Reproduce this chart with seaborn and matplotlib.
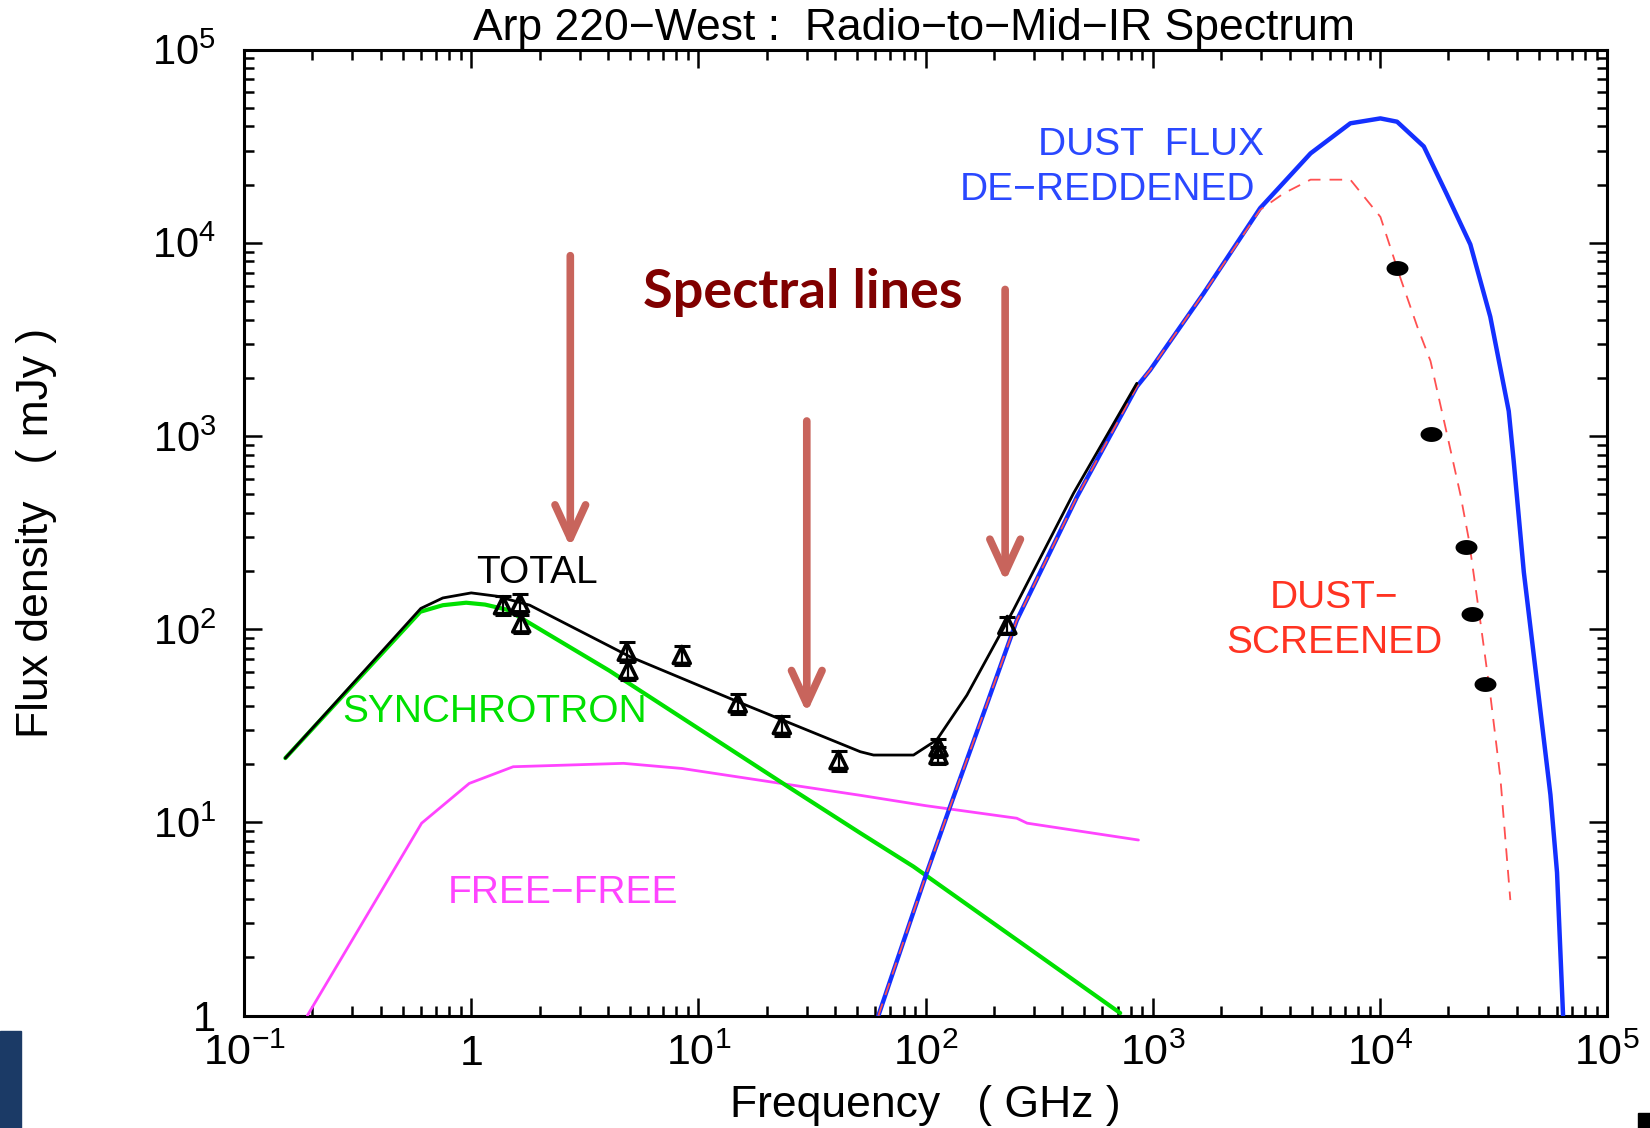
import numpy as np
import pandas as pd
import seaborn as sns
import matplotlib
matplotlib.use("Agg")
import matplotlib.pyplot as plt
from matplotlib import font_manager
from matplotlib.ticker import FixedLocator, FixedFormatter, LogLocator, NullFormatter
from matplotlib.patches import Rectangle
from matplotlib.path import Path

# ---------------- data ----------------
sync_freq = [0.152, 0.597, 0.75, 0.95, 1.15, 1.44, 4.05, 24.8, 51.6, 88.5, 719]
sync_flux = [21.5, 123, 133, 137, 134, 126, 61, 15.3, 8.8, 5.9, 1.03]

total_freq = [0.152, 0.60, 0.75, 1.0, 1.3, 1.81, 5.0, 16.3, 51.6, 59, 88.5, 112, 152, 244, 448, 851]
total_flux = [21.5, 128, 145, 154, 148, 133, 72, 40.3, 23.2, 22.3, 22.3, 26.7, 45.5, 126, 505, 1872]

ff_freq = [0.19, 0.605, 0.98, 1.53, 4.68, 8.47, 23.1, 51.6, 100, 252, 280, 865]
ff_flux = [1.0, 9.9, 15.9, 19.4, 20.2, 19.0, 15.9, 13.8, 12.2, 10.5, 9.9, 8.1]

dust_freq = [62, 101, 128, 189, 252, 464, 851, 973, 1675, 2970, 4950, 7410, 10050,
             11900, 15600, 19700, 25000, 30600, 36900, 38800, 43000, 49200, 56300, 60200, 64000]
dust_flux = [1.0, 5.44, 12.0, 43, 111, 484, 1800, 2190, 5470, 15100, 29000, 41500, 44000,
             42300, 31500, 17800, 9800, 4140, 1344, 741, 197, 52.5, 13.9, 5.5, 1.0]

screen_freq = [62, 101, 128, 189, 252, 464, 851, 973, 1675, 2970, 3770, 4950, 7410, 10050,
               12300, 14600, 16700, 19700, 22600, 24600, 27700, 30600, 33900, 37500]
screen_flux = [1.0, 5.44, 12.0, 43, 111, 484, 1800, 2190, 5470, 14800, 18000, 21200, 21200, 13600,
               6580, 3680, 2440, 1031, 498, 293, 108.6, 45.9, 17.0, 3.96]

radio_freq = [1.38, 1.64, 1.66, 4.84, 4.92, 8.45, 14.9, 23.3, 41.4, 114, 114, 229]
radio_flux = [133, 136, 107, 76.4, 61.4, 73.5, 41.3, 31.9, 21, 22.3, 24.5, 105]
radio_err = [15, 16, 12, 9, 7, 8, 5, 3.8, 2.5, 2.3, 2.6, 11]

ir_freq = [11900, 16700, 24000, 25400, 29100]
ir_flux = [7410, 1018, 267, 120, 51.8]

x_ticks = [0.1, 1, 10, 100, 1000, 1e4, 1e5]
x_tick_labels = ["$10^{-1}$", "1", "$10^{1}$", "$10^{2}$", "$10^{3}$", "$10^{4}$", "$10^{5}$"]
y_ticks = [1, 10, 100, 1000, 1e4, 1e5]
y_tick_labels = ["1", "$10^{1}$", "$10^{2}$", "$10^{3}$", "$10^{4}$", "$10^{5}$"]

# ---------------- style ----------------
sns.set_theme(style="ticks")
names = {f.name for f in font_manager.fontManager.ttflist}
main_font = "Liberation Sans Narrow" if "Liberation Sans Narrow" in names else "Liberation Sans"
plt.rcParams["font.family"] = [main_font, "DejaVu Sans"]
plt.rcParams["mathtext.fontset"] = "custom"
plt.rcParams["mathtext.rm"] = main_font
plt.rcParams["mathtext.default"] = "regular"
plt.rcParams["axes.linewidth"] = 2.2

fig = plt.figure(figsize=(16.5, 11.28), dpi=100)
ax = fig.add_axes([0.1479, 0.0997, 0.8261, 0.8564])

GREEN = "#00e000"
MAGENTA = "#ff44ff"
BLUE = "#1430ff"
RED = "#ff5050"

sns.lineplot(x=ff_freq, y=ff_flux, ax=ax, color=MAGENTA, lw=2.0, sort=False, estimator=None, zorder=3)
sns.lineplot(x=sync_freq, y=sync_flux, ax=ax, color=GREEN, lw=3.0, sort=False, estimator=None, zorder=3)
sns.lineplot(x=dust_freq, y=dust_flux, ax=ax, color=BLUE, lw=3.2, sort=False, estimator=None, zorder=3)
sns.lineplot(x=screen_freq, y=screen_flux, ax=ax, color=RED, lw=1.3, sort=False, estimator=None,
             linestyle=(0, (7, 5)), zorder=4)
sns.lineplot(x=total_freq, y=total_flux, ax=ax, color="black", lw=2.0, sort=False, estimator=None, zorder=5)

ax.errorbar(radio_freq, radio_flux, yerr=radio_err, fmt="none", ecolor="black",
            elinewidth=1.6, capsize=6, capthick=2.2, zorder=6)
sns.scatterplot(x=radio_freq, y=radio_flux, ax=ax, marker="^", s=150, facecolor="none",
                edgecolor="black", linewidth=2.6, zorder=7)

t = np.linspace(0, 2 * np.pi, 40)
ellipse = Path(np.column_stack([np.cos(t), 0.68 * np.sin(t)]), closed=True)
sns.scatterplot(x=ir_freq, y=ir_flux, ax=ax, marker=ellipse, s=250, color="black",
                edgecolor="black", linewidth=0, zorder=7)

ax.set_xscale("log")
ax.set_yscale("log")
ax.set_xlim(0.1, 1e5)
ax.set_ylim(1, 1e5)

ax.xaxis.set_major_locator(FixedLocator(x_ticks))
ax.xaxis.set_major_formatter(FixedFormatter(x_tick_labels))
ax.yaxis.set_major_locator(FixedLocator(y_ticks))
ax.yaxis.set_major_formatter(FixedFormatter(y_tick_labels))
ax.xaxis.set_minor_locator(LogLocator(base=10, subs=np.arange(2, 10), numticks=20))
ax.yaxis.set_minor_locator(LogLocator(base=10, subs=np.arange(2, 10), numticks=20))
ax.xaxis.set_minor_formatter(NullFormatter())
ax.yaxis.set_minor_formatter(NullFormatter())

ax.tick_params(which="both", direction="in", top=True, right=True, colors="black", width=1.8)
ax.tick_params(which="major", length=13)
ax.tick_params(which="minor", length=7)
ax.tick_params(axis="x", which="major", labelsize=31, pad=13)
ax.tick_params(axis="y", which="major", labelsize=30, pad=20)
for s in ax.spines.values():
    s.set_color("black")
    s.set_linewidth(2.2)

ax.set_xlabel("Frequency   ( GHz )", fontsize=32, color="black")
ax.xaxis.set_label_coords(0.5, -0.0927)
ax.xaxis.label.set_va("center")
ax.set_ylabel("Flux density   ( mJy )", fontsize=32, color="black")
ax.yaxis.set_label_coords(-0.152, 0.5)
ax.yaxis.label.set_va("center")
ax.yaxis.label.set_ha("center")

ax.set_title("Arp 220\u2212West :  Radio\u2212to\u2212Mid\u2212IR Spectrum", fontsize=32,
             color="black", pad=7, x=0.4916)

# curve labels
lab = dict(fontsize=28, va="baseline")
ax.text(1.95, 173, "TOTAL", color="black", ha="center", **lab)
ax.text(1.27, 33.0, "SYNCHROTRON", color=GREEN, ha="center", **lab)
ax.text(2.53, 3.82, "FREE\u2212FREE", color=MAGENTA, ha="center", **lab)
ax.text(3100, 28400, "DUST  FLUX", color="#2a48ff", ha="right", **lab)
ax.text(2830, 16600, "DE\u2212REDDENED", color="#2a48ff", ha="right", **lab)
ax.text(6310, 128.5, "DUST\u2212", color="#ff3322", ha="center", **lab)
ax.text(6310, 75.2, "SCREENED", color="#ff3322", ha="center", **lab)

# spectral line arrows
ARROW = "#c8645c"
arrows = [(2.73, 265, 8570), (30.0, 36.8, 1195), (224, 176, 5730)]
for fx, y_tip, y_tail in arrows:
    ax.annotate("", xy=(fx, y_tip), xytext=(fx, y_tail),
                arrowprops=dict(arrowstyle="->,head_length=1.2,head_width=0.55",
                                color=ARROW, lw=5.5, mutation_scale=20,
                                shrinkA=0, shrinkB=0), zorder=8)
ax.text(28.8, 4590, "Spectral lines", color="#800000", fontsize=39, fontweight="bold",
        family=["Lato", "DejaVu Sans"], ha="center", va="baseline", zorder=9)

# slide artifacts at the corners
fig.patches.append(Rectangle((0, 0), 21 / 1650, 97 / 1128, transform=fig.transFigure,
                             color="#1b3a66", zorder=0))
fig.patches.append(Rectangle((1638 / 1650, 0), 12 / 1650, 15 / 1128, transform=fig.transFigure,
                             color="black", zorder=0))

fig.savefig("out.png", dpi=100)
